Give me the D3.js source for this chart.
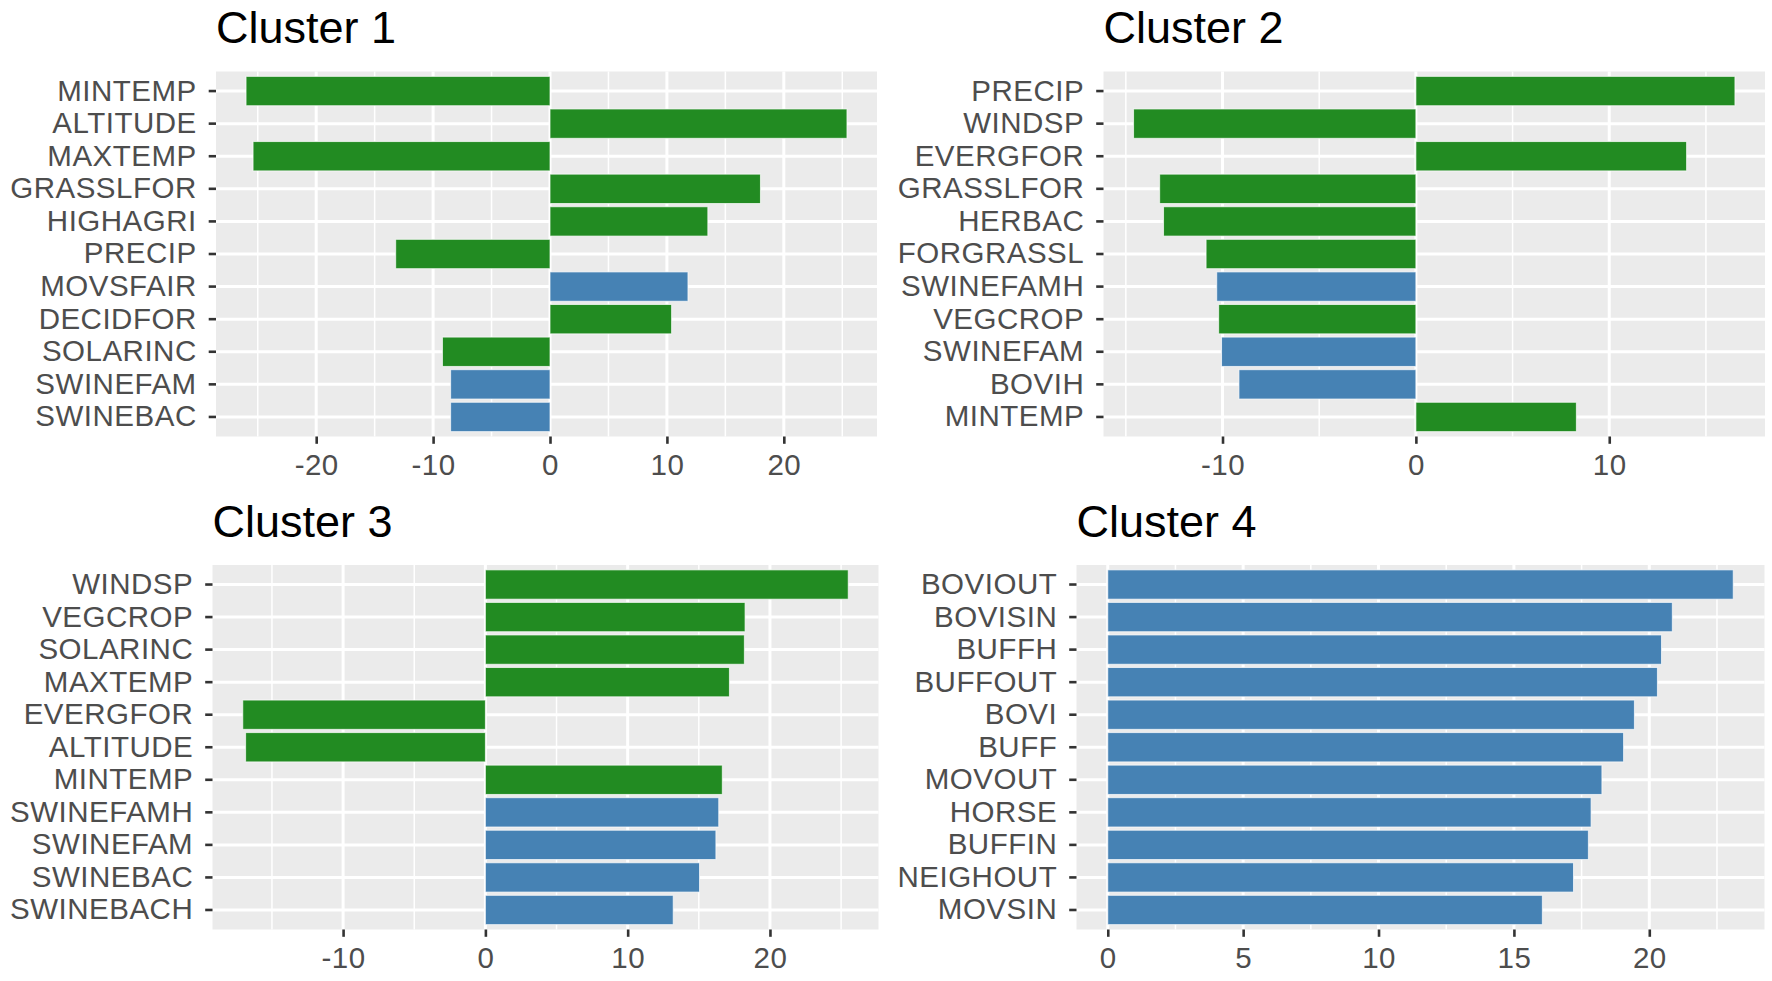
<!DOCTYPE html>
<html>
<head>
<meta charset="utf-8">
<script src="https://cdn.jsdelivr.net/npm/d3@7"></script>
<style>
  body { margin: 0; background: #fff; }
  svg text { font-family: "Liberation Sans", Arial, sans-serif; }
</style>
</head>
<body>
<div id="chart"></div>
<script>
// Cluster 1
const cluster1Vars = ["MINTEMP", "ALTITUDE", "MAXTEMP", "GRASSLFOR", "HIGHAGRI", "PRECIP", "MOVSFAIR", "DECIDFOR", "SOLARINC", "SWINEFAM", "SWINEBAC"];
const cluster1Values = [-26.0, 25.4, -25.4, 18.0, 13.5, -13.2, 11.8, 10.4, -9.2, -8.5, -8.5];
const cluster1Types = ["env", "env", "env", "env", "env", "env", "host", "env", "env", "host", "host"];
const cluster1Ticks = [-20, -10, 0, 10, 20];

// Cluster 2
const cluster2Vars = ["PRECIP", "WINDSP", "EVERGFOR", "GRASSLFOR", "HERBAC", "FORGRASSL", "SWINEFAMH", "VEGCROP", "SWINEFAM", "BOVIH", "MINTEMP"];
const cluster2Values = [16.5, -14.6, 14.0, -13.25, -13.05, -10.85, -10.3, -10.2, -10.05, -9.15, 8.3];
const cluster2Types = ["env", "env", "env", "env", "env", "env", "host", "env", "host", "host", "env"];
const cluster2Ticks = [-10, 0, 10];

// Cluster 3
const cluster3Vars = ["WINDSP", "VEGCROP", "SOLARINC", "MAXTEMP", "EVERGFOR", "ALTITUDE", "MINTEMP", "SWINEFAMH", "SWINEFAM", "SWINEBAC", "SWINEBACH"];
const cluster3Values = [25.5, 18.25, 18.2, 17.15, -17.05, -16.85, 16.65, 16.4, 16.2, 15.05, 13.2];
const cluster3Types = ["env", "env", "env", "env", "env", "env", "env", "host", "host", "host", "host"];
const cluster3Ticks = [-10, 0, 10, 20];

// Cluster 4
const cluster4Vars = ["BOVIOUT", "BOVISIN", "BUFFH", "BUFFOUT", "BOVI", "BUFF", "MOVOUT", "HORSE", "BUFFIN", "NEIGHOUT", "MOVSIN"];
const cluster4Values = [23.1, 20.85, 20.45, 20.3, 19.45, 19.05, 18.25, 17.85, 17.75, 17.2, 16.05];
const cluster4Types = ["host", "host", "host", "host", "host", "host", "host", "host", "host", "host", "host"];
const cluster4Ticks = [0, 5, 10, 15, 20];

const colors = { env: "#228B22", host: "#4682B4" };

// panel boxes (plot area of each facet)
const layout = [
  { x: 216, y: 71.5, w: 661, h: 365 },
  { x: 1103.5, y: 71.5, w: 661.5, h: 365 },
  { x: 212.5, y: 565, w: 666, h: 364.5 },
  { x: 1076.5, y: 565, w: 688, h: 364.5 }
];

const svg = d3.select("#chart")
  .append("svg")
  .attr("width", 1772)
  .attr("height", 981);

function drawPanel(title, vars, values, types, ticks, box) {
  const g = svg.append("g")
    .attr("transform", `translate(${box.x},${box.y})`);

  // ggplot-like 5% expansion, bars start at 0
  const lo = Math.min(0, d3.min(values));
  const hi = Math.max(0, d3.max(values));
  const pad = (hi - lo) * 0.05;
  const x = d3.scaleLinear().domain([lo - pad, hi + pad]).range([0, box.w]);
  const y = d3.scaleBand().domain(vars).range([0, box.h])
    .paddingInner(0.1).paddingOuter(0.15);

  g.append("rect")
    .attr("width", box.w)
    .attr("height", box.h)
    .attr("fill", "#EBEBEB");

  // minor grid halfway between major ticks
  const step = ticks[1] - ticks[0];
  const minor = [ticks[0] - step / 2].concat(ticks.map(t => t + step / 2))
    .filter(t => t > x.domain()[0] && t < x.domain()[1]);

  g.selectAll(".minor")
    .data(minor)
    .enter()
    .append("line")
    .attr("class", "minor")
    .attr("x1", d => x(d)).attr("x2", d => x(d))
    .attr("y1", 0).attr("y2", box.h)
    .attr("stroke", "#fff")
    .attr("stroke-width", 1.5);

  g.selectAll(".vmajor")
    .data(ticks)
    .enter()
    .append("line")
    .attr("class", "vmajor")
    .attr("x1", d => x(d)).attr("x2", d => x(d))
    .attr("y1", 0).attr("y2", box.h)
    .attr("stroke", "#fff")
    .attr("stroke-width", 3);

  g.selectAll(".hmajor")
    .data(vars)
    .enter()
    .append("line")
    .attr("class", "hmajor")
    .attr("x1", 0).attr("x2", box.w)
    .attr("y1", d => y(d) + y.bandwidth() / 2)
    .attr("y2", d => y(d) + y.bandwidth() / 2)
    .attr("stroke", "#fff")
    .attr("stroke-width", 3);

  g.selectAll(".bar")
    .data(vars)
    .enter()
    .append("rect")
    .attr("class", "bar")
    .attr("x", (d, i) => x(Math.min(0, values[i])))
    .attr("y", d => y(d))
    .attr("width", (d, i) => Math.abs(x(values[i]) - x(0)))
    .attr("height", y.bandwidth())
    .attr("fill", (d, i) => colors[types[i]])
    .attr("stroke", "#fff")
    .attr("stroke-opacity", 0.7)
    .attr("stroke-width", 1);

  const xAxis = g.append("g")
    .attr("transform", `translate(0,${box.h})`)
    .call(d3.axisBottom(x).tickValues(ticks).tickSize(7.3).tickPadding(10)
      .tickFormat(d => String(d)));

  const yAxis = g.append("g")
    .call(d3.axisLeft(y).tickSize(7.3).tickPadding(12));

  [xAxis, yAxis].forEach(ax => {
    ax.select(".domain").remove();
    ax.selectAll(".tick line").attr("stroke", "#333").attr("stroke-width", 2.6);
    ax.selectAll(".tick text")
      .attr("fill", "#4D4D4D")
      .style("font-size", "29.5px")
      .style("letter-spacing", "0.5px");
  });

  g.append("text")
    .attr("x", 0)
    .attr("y", -28.5)
    .attr("fill", "#000")
    .style("font-size", "45px")
    .text(title);
}

drawPanel("Cluster 1", cluster1Vars, cluster1Values, cluster1Types, cluster1Ticks, layout[0]);
drawPanel("Cluster 2", cluster2Vars, cluster2Values, cluster2Types, cluster2Ticks, layout[1]);
drawPanel("Cluster 3", cluster3Vars, cluster3Values, cluster3Types, cluster3Ticks, layout[2]);
drawPanel("Cluster 4", cluster4Vars, cluster4Values, cluster4Types, cluster4Ticks, layout[3]);
</script>
</body>
</html>
